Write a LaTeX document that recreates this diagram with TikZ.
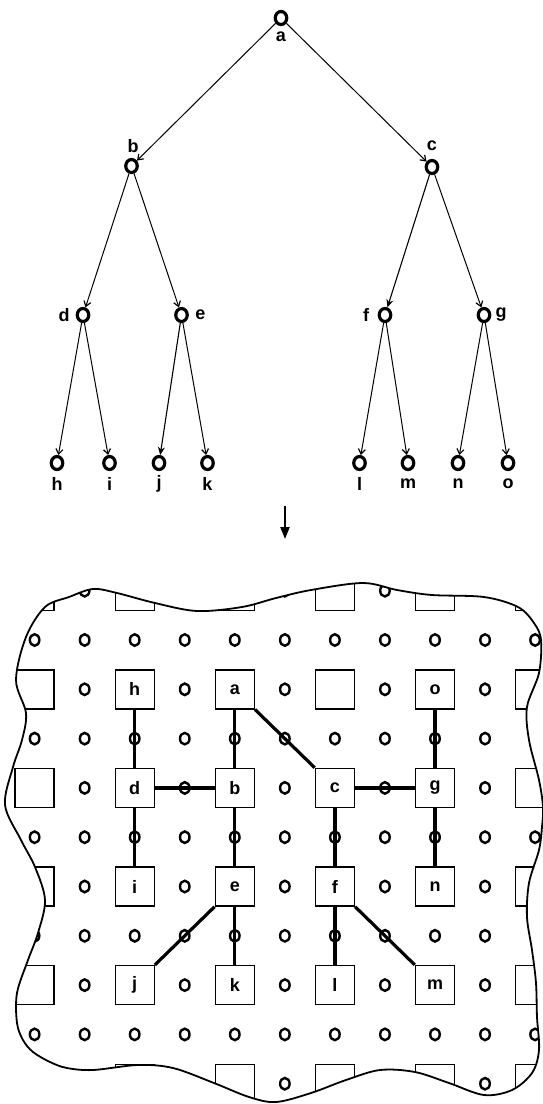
\documentclass[tikz,border=0pt]{standalone}
\usepackage{fontspec}
\setmainfont{Liberation Sans}
\usetikzlibrary{shapes.geometric,arrows.meta}
\begin{document}
\begin{tikzpicture}[x=1pt,y=-1pt,
  tnode/.style={ellipse, draw, line width=3.2pt, minimum width=11.5pt, minimum height=13pt, inner sep=0pt},
  tlab/.style={font=\bfseries\fontsize{18}{18}\selectfont, inner sep=0pt},
  tedge/.style={line width=1pt, -{Straight Barb[length=5pt,width=7pt,line width=1.2pt]}},
  tedgef/.style={line width=1.1pt, -{Stealth[length=8pt,width=7pt]}},
  gsq/.style={draw, line width=1.4pt, minimum size=39pt, inner sep=0pt},
  glab/.style={font=\bfseries\fontsize{18}{18}\selectfont, inner sep=0pt},
  gcirc/.style={ellipse, draw, line width=2.4pt, minimum width=9.5pt, minimum height=11.5pt, inner sep=0pt},
  gline/.style={line width=3.2pt},
  blob/.style={line width=1.8pt},
  bigarrow/.style={line width=2.2pt, -{Triangle[length=12pt,width=9pt]}}
]
\useasboundingbox (0,0) rectangle (542,1104);

% ---------- tree ----------
\node[tnode] (a) at (281,18) {};
\node[tnode] (b) at (131.5,166) {};
\node[tnode] (c) at (432,167) {};
\node[tnode] (d) at (83,315) {};
\node[tnode] (e) at (181.5,315) {};
\node[tnode] (f) at (385,315) {};
\node[tnode] (g) at (484,315) {};
\node[tnode] (h) at (57,463) {};
\node[tnode] (i) at (109.5,463) {};
\node[tnode] (j) at (159,463) {};
\node[tnode] (k) at (207.5,463) {};
\node[tnode] (l) at (359.5,463) {};
\node[tnode] (m) at (408,463) {};
\node[tnode] (n) at (458,463) {};
\node[tnode] (o) at (508,463) {};

\node[tlab] (la) at (281,37) {a};
\node[tlab] (lb) at (133,146) {b};
\node[tlab] (lc) at (432,146) {c};
\node[tlab] (ld) at (64,315) {d};
\node[tlab] (le) at (200.5,315) {e};
\node[tlab] (lf) at (366,315) {f};
\node[tlab] (lg) at (501,315) {g};
\node[tlab] (lh) at (57,484) {h};
\node[tlab] (li) at (109.5,484) {i};
\node[tlab] (lj) at (159,484) {j};
\node[tlab] (lk) at (207.5,484) {k};
\node[tlab] (ll) at (359.5,484) {l};
\node[tlab] (lm) at (408,484) {m};
\node[tlab] (ln) at (458,484) {n};
\node[tlab] (lo) at (508,484) {o};

\draw[tedge] (a) -- (b);
\draw[tedge] (a) -- (c);
\draw[tedge] (b) -- (d);
\draw[tedge] (b) -- (e);
\draw[tedgef] (c) -- (f);
\draw[tedge] (c) -- (g);
\draw[tedge] (d) -- (h);
\draw[tedge] (d) -- (i);
\draw[tedgef] (e) -- (j);
\draw[tedge] (e) -- (k);
\draw[tedge] (f) -- (l);
\draw[tedge] (f) -- (m);
\draw[tedge] (g) -- (n);
\draw[tedge] (g) -- (o);

% ---------- arrow ----------
\coordinate (arrtop) at (285,506);
\coordinate (arrbot) at (285,539);
\draw[bigarrow] (arrtop) -- (arrbot);

% ---------- grid ----------
\begin{scope}
\clip plot[smooth cycle, tension=0.55] coordinates {
 (26,637) (45,607) (69,597) (93,589) (117,593) (155,603) (197,611) (242,607)
 (276,598) (311,590) (363,583) (397,590) (432,595) (484,597) (518,607) (534,623)
 (541,640) (539,673) (527,707) (529,740) (539,780) (543,807) (542,827) (539,850)
 (529,883) (527,917) (532,950) (536,983) (537,1017) (539,1050) (532,1073) (512,1090)
 (484,1095) (449,1083) (415,1072) (380,1070) (346,1080) (311,1093) (276,1102) (249,1097)
 (214,1083) (173,1068) (138,1065) (93,1070) (67,1068) (50,1062) (33,1052) (23,1040)
 (17,1023) (17,993) (28,960) (38,933) (45,900) (35,867) (21,840) (5,805)
 (13,767) (22,740) (26,713) (16,680)};
\foreach \r in {-1,...,9}{
  \foreach \c in {0,...,10}{
    \pgfmathtruncatemacro{\isodd}{mod(\r+2,2)}
    \pgfmathtruncatemacro{\iseven}{1-mod(\c,2)}
    \pgfmathsetmacro{\xx}{34.6+50.05*\c}
    \pgfmathsetmacro{\yy}{640+49.3*\r}
    \ifnum\isodd=1
      \ifnum\iseven=1
        \node[gsq] (s\c-\r) at (\xx,\yy) {};
      \else
        \node[gcirc] (o\c-\r) at (\xx,\yy) {};
      \fi
    \else
      \node[gcirc] (o\c-\r) at (\xx,\yy) {};
    \fi
  }
}
\node[glab] (gh) at (s2-1) {h};
\node[glab] (ga) at (s4-1) {a};
\node[glab] (go) at (s8-1) {o};
\node[glab] (gd) at (s2-3) {d};
\node[glab] (gb) at (s4-3) {b};
\node[glab] (gc) at (s6-3) {c};
\node[glab] (gg) at (s8-3) {g};
\node[glab] (gi) at (s2-5) {i};
\node[glab] (ge) at (s4-5) {e};
\node[glab] (gf) at (s6-5) {f};
\node[glab] (gn) at (s8-5) {n};
\node[glab] (gj) at (s2-7) {j};
\node[glab] (gk) at (s4-7) {k};
\node[glab] (gl) at (s6-7) {l};
\node[glab] (gm) at (s8-7) {m};

\draw[gline] (s2-1) -- (s2-3);
\draw[gline] (s4-1) -- (s4-3);
\draw[gline] (s4-1.south east) -- (s6-3.north west);
\draw[gline] (s8-1) -- (s8-3);
\draw[gline] (s2-3) -- (s4-3);
\draw[gline] (s6-3) -- (s8-3);
\draw[gline] (s2-3) -- (s2-5);
\draw[gline] (s4-3) -- (s4-5);
\draw[gline] (s6-3) -- (s6-5);
\draw[gline] (s8-3) -- (s8-5);
\draw[gline] (s4-5.south west) -- (s2-7.north east);
\draw[gline] (s4-5) -- (s4-7);
\draw[gline] (s6-5) -- (s6-7);
\draw[gline] (s6-5.south east) -- (s8-7.north west);
\end{scope}
\draw[blob] plot[smooth cycle, tension=0.55] coordinates {
 (26,637) (45,607) (69,597) (93,589) (117,593) (155,603) (197,611) (242,607)
 (276,598) (311,590) (363,583) (397,590) (432,595) (484,597) (518,607) (534,623)
 (541,640) (539,673) (527,707) (529,740) (539,780) (543,807) (542,827) (539,850)
 (529,883) (527,917) (532,950) (536,983) (537,1017) (539,1050) (532,1073) (512,1090)
 (484,1095) (449,1083) (415,1072) (380,1070) (346,1080) (311,1093) (276,1102) (249,1097)
 (214,1083) (173,1068) (138,1065) (93,1070) (67,1068) (50,1062) (33,1052) (23,1040)
 (17,1023) (17,993) (28,960) (38,933) (45,900) (35,867) (21,840) (5,805)
 (13,767) (22,740) (26,713) (16,680)};
\end{tikzpicture}
\end{document}
